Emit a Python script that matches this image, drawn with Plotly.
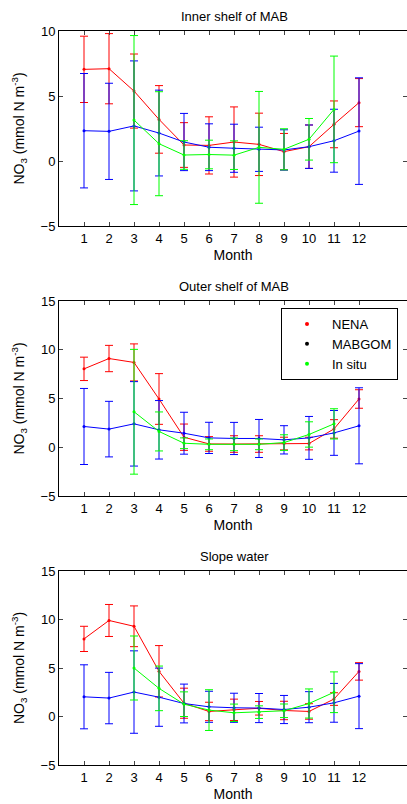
import plotly.graph_objects as go

# Monthly NO3 climatology (mmol N m-3): model means +/- std and in situ obs
months = list(range(1, 13))

# Inner shelf of MAB
nena_inner = [7.05, 7.1, 5.38, 3.2, 1.23, 1.2, 1.46, 1.28, 0.72, 1.1, 2.82, 4.49]
nena_inner_err = [2.55, 2.7, 2.85, 2.6, 1.72, 2.2, 2.7, 2.4, 1.4, 1.67, 1.8, 1.85]
mabgom_inner = [2.33, 2.28, 2.7, 2.15, 1.46, 1.06, 0.98, 0.9, 0.85, 1.1, 1.56, 2.3]
mabgom_inner_err = [4.4, 3.7, 5.0, 3.3, 2.2, 1.8, 1.85, 1.7, 1.55, 1.67, 2.42, 4.1]
insitu_inner = [None, None, 3.15, 1.33, 0.46, 0.5, 0.45, 1.05, 0.9, 1.67, 3.97, None]
insitu_inner_err = [None, None, 6.5, 4.0, 1.1, 1.1, 1.1, 4.3, 1.58, 1.6, 4.1, None]

# Outer shelf of MAB
nena_outer = [8.04, 9.1, 8.7, 4.95, 1.03, 0.34, 0.33, 0.33, 0.38, 0.38, 1.88, 4.95]
nena_outer_err = [1.2, 1.35, 1.9, 2.6, 1.35, 0.75, 0.85, 0.85, 0.65, 0.65, 0.95, 0.95]
mabgom_outer = [2.13, 1.86, 2.4, 1.79, 1.44, 0.96, 0.9, 0.9, 0.76, 0.96, 1.47, 2.2]
mabgom_outer_err = [3.9, 2.85, 4.33, 3.0, 2.15, 1.6, 1.65, 1.95, 1.45, 2.2, 2.3, 3.9]
insitu_outer = [None, None, 3.64, 1.62, 0.41, 0.3, 0.3, 0.3, 0.48, 1.31, 2.4, None]
insitu_outer_err = [None, None, 6.4, 2.0, 0.55, 0.55, 0.65, 0.55, 0.8, 1.3, 1.55, None]

# Slope water
nena_slope = [8.0, 9.9, 9.3, 4.66, 1.37, 0.52, 0.69, 0.85, 0.62, 0.52, 1.8, 4.65]
nena_slope_err = [1.3, 1.65, 2.1, 2.65, 1.55, 0.95, 1.1, 0.7, 0.95, 0.8, 0.65, 0.9]
mabgom_slope = [2.03, 1.9, 2.52, 1.99, 1.34, 1.0, 0.9, 0.87, 0.72, 0.96, 1.41, 2.1]
mabgom_slope_err = [3.3, 2.65, 4.25, 3.0, 2.0, 1.6, 1.5, 1.5, 1.45, 1.6, 2.0, 3.35]
insitu_slope = [None, None, 5.0, 2.9, 1.27, 0.66, 0.38, 0.45, 0.59, 1.34, 2.5, None]
insitu_slope_err = [None, None, 3.3, 2.3, 1.27, 2.1, 0.9, 0.65, 0.7, 1.5, 2.1, None]

panels = [
    ('Inner shelf of MAB', [-5, 10], [-5, 0, 5, 10],
     (nena_inner, nena_inner_err), (mabgom_inner, mabgom_inner_err), (insitu_inner, insitu_inner_err)),
    ('Outer shelf of MAB', [-5, 15], [-5, 0, 5, 10, 15],
     (nena_outer, nena_outer_err), (mabgom_outer, mabgom_outer_err), (insitu_outer, insitu_outer_err)),
    ('Slope water', [-5, 15], [-5, 0, 5, 10, 15],
     (nena_slope, nena_slope_err), (mabgom_slope, mabgom_slope_err), (insitu_slope, insitu_slope_err)),
]

W, H = 407, 804
FONT = 'Liberation Sans, Arial, sans-serif'
colors = {'NENA': '#ff0000', 'MABGOM': '#0000ff', 'In situ': '#00ff00'}

# plot area pixel boxes (top, bottom) for each panel
boxes = [(31, 226), (301, 496), (571, 765)]
x_left = 59
px_per_month = 25.0

fig = go.Figure()
annotations = []

for i, (title, yrange, yticks, nena, mabgom, insitu) in enumerate(panels):
    n = '' if i == 0 else str(i + 1)
    for name, (vals, errs) in zip(['NENA', 'MABGOM', 'In situ'], [nena, mabgom, insitu]):
        c = colors[name]
        fig.add_trace(go.Scatter(
            x=months, y=vals, mode='lines+markers', name=name,
            xaxis='x' + n, yaxis='y' + n, showlegend=False, connectgaps=False,
            line=dict(color=c, width=1),
            marker=dict(color=c, size=3),
            error_y=dict(type='data', array=[e if e is not None else 0 for e in errs],
                         color=c, thickness=1, width=4),
        ))

    top, bot = boxes[i]
    fig.layout['xaxis' + n] = dict(
        domain=[x_left / W, 1.0], range=[0, (W - x_left) / px_per_month], anchor='y' + n,
        tickvals=months, ticks='inside', ticklen=4, showline=True, mirror='ticks',
        linecolor='black', linewidth=1, showgrid=False, zeroline=False, automargin=False,
        tickfont=dict(family=FONT, size=13, color='black'),
        title=dict(text='Month', font=dict(family=FONT, size=14, color='black'), standoff=5),
    )
    fig.layout['yaxis' + n] = dict(
        domain=[1 - bot / H, 1 - top / H], range=yrange, anchor='x' + n,
        tickvals=yticks, ticks='inside', ticklen=4, showline=True, mirror='ticks',
        linecolor='black', linewidth=1, showgrid=False, zeroline=False, automargin=False,
        tickfont=dict(family=FONT, size=13, color='black'),
        title=dict(text='NO<sub>3</sub> (mmol N m<sup>-3</sup>)',
                   font=dict(family=FONT, size=14, color='black'), standoff=12),
    )
    # centre of the full (uncut) axis box, 14 months wide
    annotations.append(dict(
        text=title, x=(x_left + 7 * px_per_month) / W, y=1 - (top - 15) / H,
        xref='paper', yref='paper', showarrow=False, xanchor='center', yanchor='middle',
        font=dict(family=FONT, size=13, color='black'),
    ))

# legend entries (marker only, as in the original)
for name, c in [('NENA', '#ff0000'), ('MABGOM', '#000000'), ('In situ', '#00ff00')]:
    fig.add_trace(go.Scatter(
        x=[None], y=[None], mode='markers', name=name, xaxis='x2', yaxis='y2',
        marker=dict(color=c, size=4),
    ))

fig.update_layout(
    width=W, height=H,
    margin=dict(l=0, r=0, t=0, b=0, autoexpand=False),
    paper_bgcolor='white', plot_bgcolor='white',
    annotations=annotations,
    legend=dict(
        x=281 / W, y=1 - 308 / H, xanchor='left', yanchor='top',
        bgcolor='white', bordercolor='black', borderwidth=1,
        font=dict(family=FONT, size=13, color='black'),
        itemwidth=40, tracegroupgap=0,
    ),
)

# drop the browser's default body margin so the figure sits at the page origin
fig.write_html('out.html', config={'displayModeBar': False},
               post_script="document.body.style.margin='0';")
